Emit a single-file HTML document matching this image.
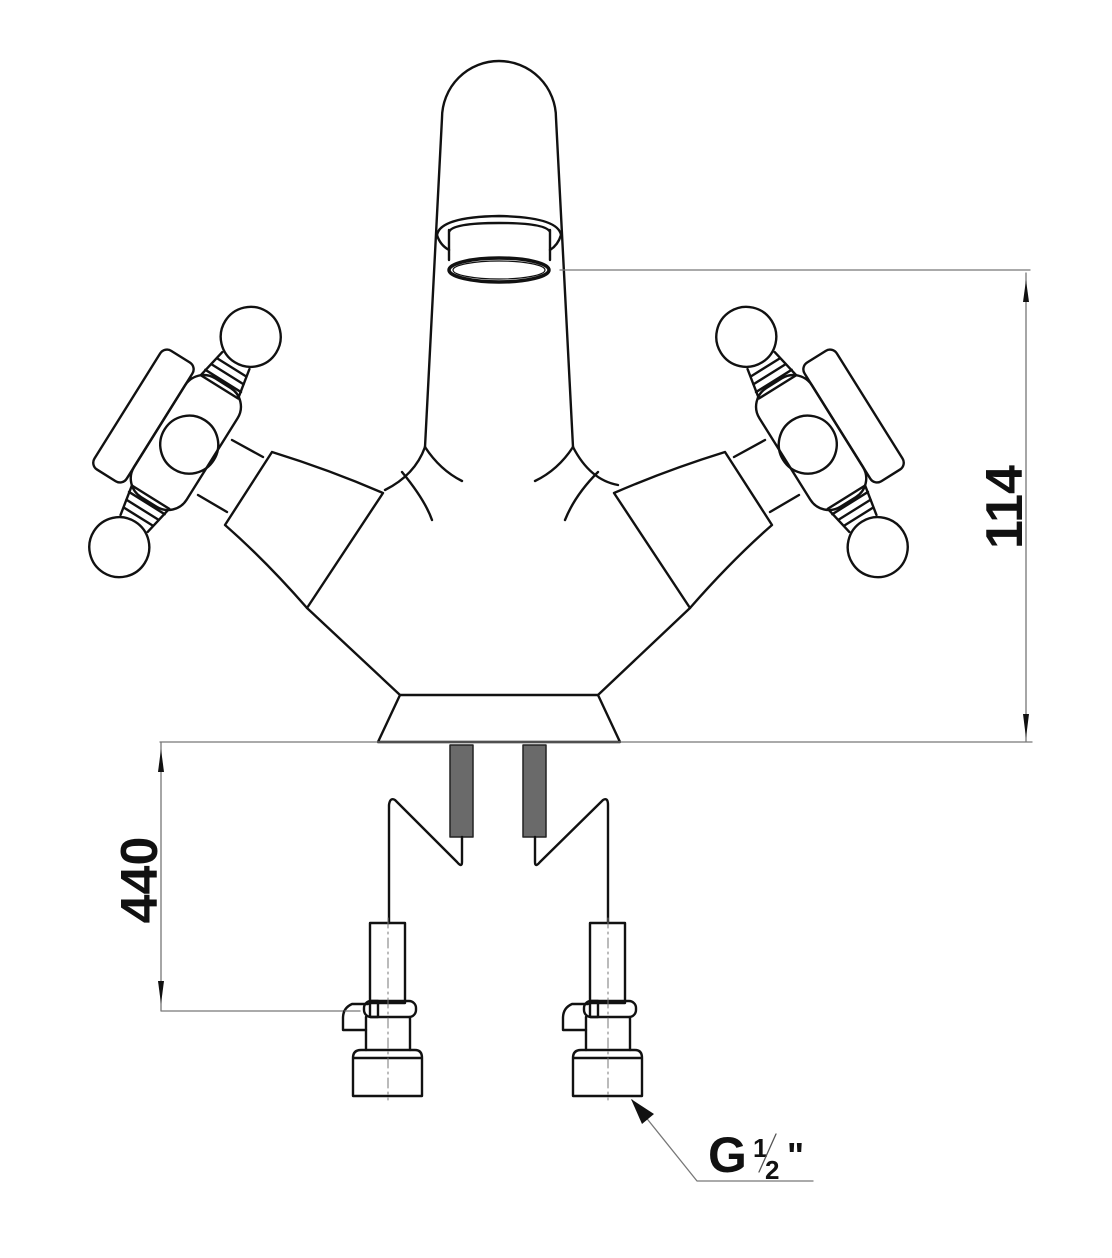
<!DOCTYPE html>
<html><head><meta charset="utf-8"><style>html,body{margin:0;padding:0;background:#fff}svg{display:block}</style></head>
<body>
<svg width="1112" height="1258" viewBox="0 0 1112 1258" xmlns="http://www.w3.org/2000/svg" fill="none" stroke="#111" stroke-width="2.4" stroke-linejoin="round" stroke-linecap="round">
<!-- spout -->
<path d="M425,447 L442,118 A57,57 0 0 1 556,118 L573,447"/>
<path d="M437,235 Q440,217 499,216 Q558,217 561,235 Q558,245 550,250 M437,235 Q440,245 449,250"/>
<path d="M449,230 L449,260 M550,230 L550,260 M449,232 Q452,223 499,223 Q546,223 550,232"/>
<ellipse cx="499" cy="270" rx="50" ry="12" stroke-width="3.5"/>
<ellipse cx="499" cy="270" rx="46" ry="9" stroke-width="1.2"/>
<!-- junctions -->
<path d="M425,447 Q440,470 462,481 M573,447 Q558,470 535,481"/>
<path d="M425,447 Q415,475 385,490 M573,447 Q590,480 618,485"/>
<path d="M402,472 Q425,500 432,520 M598,472 Q575,495 565,520"/>
<!-- lower body -->
<path d="M307,608 L400,695 L598,695 L690,608"/>
<path d="M400,695 L378,742 L620,742 L598,695"/>
<!-- dimension lines -->
<g stroke="#777" stroke-width="1.3">
<path d="M560,270 L1030,270 M1026,273 L1026,742 M160,742 L1032,742 M161,742 L161,1011 M161,1011 L345,1011"/>
<path d="M632,1100 L697,1181 L813,1181"/>
</g>
<g fill="#111" stroke="none">
<path d="M1026,280 L1023,302 L1029,302 Z"/><path d="M1026,738 L1023,714 L1029,714 Z"/>
<path d="M161,749 L158,772 L164,772 Z"/><path d="M161,1004 L158,981 L164,981 Z"/>
<path d="M631,1099 L642,1124 L654,1114 Z"/>
</g>
<!-- handles -->
<g id="hL">
<path d="M272,452 Q330,470 383,493 L307,608 Q265,560 225,525 Z"/>
<path d="M232,440 L263,457 M198,495 L227,512"/>
<g transform="translate(185,442) rotate(-58)">
<circle cx="124" cy="0" r="30"/><circle cx="-124" cy="0" r="30"/>
<path d="M-96,-16 L-65,-22 L-65,22 L-96,16 M96,-16 L65,-22 L65,22 L96,16"/>
<path d="M-88,-17 L-88,17 M-80,-19 L-80,19 M-72,-21 L-72,21 M88,-17 L88,17 M80,-19 L80,19 M72,-21 L72,21"/>
<rect x="-70" y="-30" width="140" height="62" rx="22"/>
<rect x="-70" y="-68" width="140" height="38" rx="8"/>
<circle cx="0" cy="5" r="29"/>
</g>
</g>
<use href="#hL" transform="translate(997,0) scale(-1,1)"/>
<!-- threaded rods -->
<g fill="#6a6a6a" stroke="#222" stroke-width="1.5">
<rect x="450" y="745" width="23" height="92"/><rect x="523" y="745" width="23" height="92"/>
</g>
<!-- hoses -->
<path d="M462,837 L462,862 Q462,868 457,862 L395,800 Q390,797 389,805 L389,923"/>
<path d="M535,837 L535,862 Q535,868 540,862 L603,800 Q608,797 608,805 L608,923"/>
<!-- fittings -->
<g id="fL">
<rect x="370" y="923" width="35" height="80"/>
<rect x="364" y="1001" width="52" height="16" rx="7"/>
<path d="M370,1001 L370,1017 L378,1017 L378,1001 Z"/>
<path d="M368,1004 L352,1004 Q343,1008 343,1018 L343,1030 L366,1030"/>
<path d="M366,1017 L366,1050 M410,1017 L410,1050"/>
<path d="M353,1058 Q353,1050 361,1050 L415,1050 Q422,1050 422,1058 L422,1096 L353,1096 Z M353,1058 L422,1058"/>
<path d="M388,918 L388,1100" stroke="#777" stroke-width="1" stroke-dasharray="10,4,2,4"/>
</g>
<use href="#fL" transform="translate(220,0)"/>
<path d="M345,1011 L360,1011" stroke="#777" stroke-width="1.3"/>
<!-- text -->
<g fill="#111" stroke="none" font-family="Liberation Sans, sans-serif" font-weight="bold">
<text x="0" y="0" font-size="52" text-anchor="middle" transform="translate(1022,507) rotate(-90)">114</text>
<text x="0" y="0" font-size="52" text-anchor="middle" transform="translate(157,880) rotate(-90)">440</text>
<text x="708" y="1172" font-size="50">G</text>
<text x="753" y="1157" font-size="26">1</text>
<text x="765" y="1179" font-size="26">2</text>
<text x="787" y="1168" font-size="36">"</text>
</g>
<path d="M776,1134 L759,1172" stroke-width="1.3" stroke="#555"/>
</svg>
</body></html>
